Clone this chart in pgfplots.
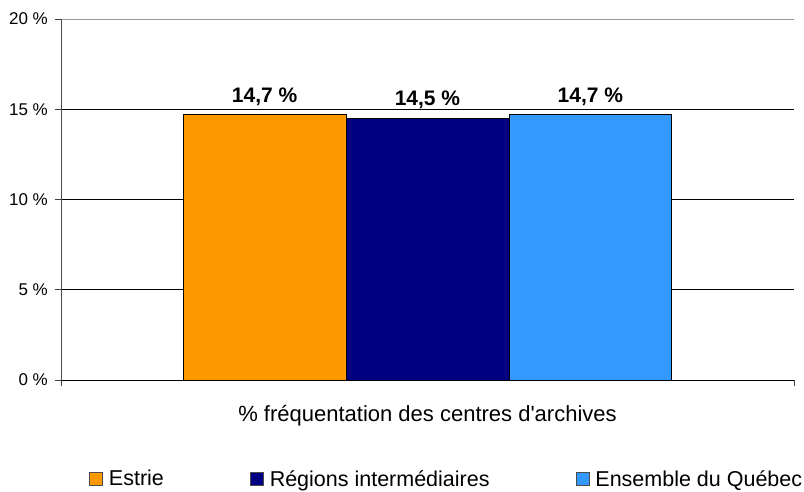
\documentclass[border=0pt]{standalone}
\usepackage{pgfplots}
\pgfplotsset{compat=1.18}
\usepackage{fontspec}
\setmainfont{Liberation Sans}
\definecolor{estrie}{HTML}{FF9900}
\definecolor{regions}{HTML}{000080}
\definecolor{quebec}{HTML}{3399FF}
\begin{document}
\begin{tikzpicture}
\path[use as bounding box] (0,0) rectangle (804pt,491pt);
\begin{axis}[
    at={(61pt,111pt)}, anchor=south west,
    width=733pt, height=361pt, scale only axis,
    xmin=-1.25, xmax=3.25, ymin=0, ymax=20,
    axis line style={draw=none},
    ytick={0,5,10,15,20},
    yticklabels={0 \%,5 \%,10 \%,15 \%,20 \%},
    xtick={-1.25,3.25}, xticklabels={},
    xtick pos=lower, ytick pos=left,
    tick align=outside, major tick length=6pt,
    tick style={black!75, line width=0.8pt},
    ymajorgrids, grid style={black, line width=0.8pt},
    /pgf/number format/assume math mode=true,
    ticklabel style={font=\fontsize{17}{20}\selectfont},
    yticklabel style={anchor=east, inner sep=0pt, xshift=-7pt},
    xlabel={\% fréquentation des centres d\textquotesingle archives},
    xlabel style={at={(axis description cs:0.5,-0.1136)}, anchor=base,
        inner sep=0pt, font=\fontsize{22}{26}\selectfont},
    ybar, bar width=1, bar shift=0pt,
    nodes near coords={\pgfmathprintnumber[fixed, fixed zerofill, precision=1, use comma]{\pgfplotspointmeta}~\%},
    every node near coord/.append style={font=\bfseries\fontsize{21}{24}\selectfont,
        inner sep=0pt, yshift=9pt},
    legend columns=3,
    legend image code/.code={\draw[#1, draw=black!70, line width=0.8pt] (0pt,-6.5pt) rectangle (13pt,6.5pt);},
    legend style={at={(axis description cs:0.0382,-0.274)}, anchor=west,
        draw=none, fill=none, inner sep=0pt,
        font=\fontsize{21.5}{25}\selectfont,
        nodes={inner sep=0pt},
        /tikz/every odd column/.style={column sep=6pt},
        /tikz/every even column/.style={column sep=86pt}},
]
\addplot[fill=estrie, draw=black, line width=0.8pt] coordinates {(0,14.7)};
\addplot[fill=regions, draw=black, line width=0.8pt] coordinates {(1,14.5)};
\addplot[fill=quebec, draw=black, line width=0.8pt] coordinates {(2,14.7)};
\legend{Estrie, Régions intermédiaires, Ensemble du Québec}
\draw[black!40, line width=0.8pt] (rel axis cs:0,1) -- (rel axis cs:1,1) -- (rel axis cs:1,0);
\draw[black, line width=0.8pt] (rel axis cs:0,0) -- (rel axis cs:1,0);
\draw[black!70, line width=0.8pt] (rel axis cs:0,0) -- (rel axis cs:0,1);
\end{axis}
\end{tikzpicture}
\end{document}
